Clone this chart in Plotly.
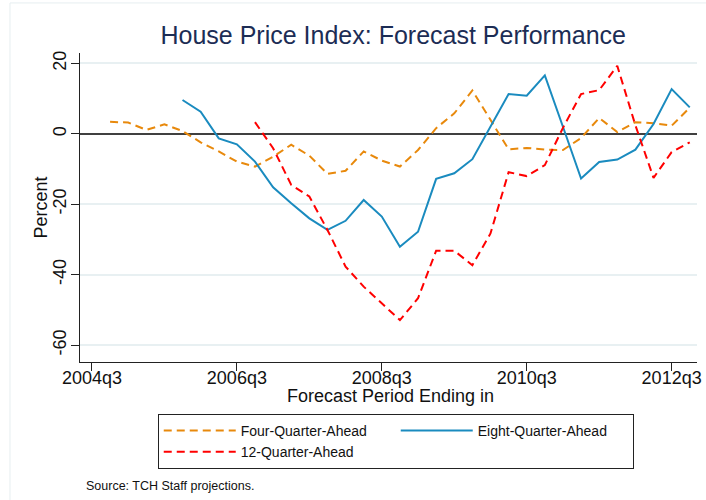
import plotly.graph_objects as go

# ---- data ----
four_q_periods = ["2004q4","2005q1","2005q2","2005q3","2005q4","2006q1","2006q2","2006q3",
                  "2006q4","2007q1","2007q2","2007q3","2007q4","2008q1","2008q2","2008q3",
                  "2008q4","2009q1","2009q2","2009q3","2009q4","2010q1","2010q2","2010q3",
                  "2010q4","2011q1","2011q2","2011q3","2011q4","2012q1","2012q2","2012q3","2012q4"]
four_q_values = [3.4, 3.2, 1.1, 2.7, 0.8, -2.4, -5.0, -7.9,
                 -9.3, -6.5, -3.1, -6.2, -11.4, -10.5, -5.0, -7.6,
                 -9.3, -4.6, 1.6, 5.8, 12.3, 4.0, -4.4, -4.0,
                 -4.5, -4.6, -1.2, 4.5, 0.5, 3.3, 3.0, 2.3, 7.4]

eight_q_periods = ["2005q4","2006q1","2006q2","2006q3","2006q4","2007q1","2007q2","2007q3",
                   "2007q4","2008q1","2008q2","2008q3","2008q4","2009q1","2009q2","2009q3",
                   "2009q4","2010q1","2010q2","2010q3","2010q4","2011q1","2011q2","2011q3",
                   "2011q4","2012q1","2012q2","2012q3","2012q4"]
eight_q_values = [9.6, 6.3, -1.3, -3.0, -7.9, -15.2, -19.7, -24.0,
                  -27.3, -24.7, -18.8, -23.5, -32.1, -27.8, -12.8, -11.2,
                  -7.2, 2.0, 11.3, 10.8, 16.6, 2.0, -12.7, -8.0,
                  -7.3, -4.5, 2.8, 12.7, 7.5]

twelve_q_periods = ["2006q4","2007q1","2007q2","2007q3","2007q4","2008q1","2008q2","2008q3",
                    "2008q4","2009q1","2009q2","2009q3","2009q4","2010q1","2010q2","2010q3",
                    "2010q4","2011q1","2011q2","2011q3","2011q4","2012q1","2012q2","2012q3","2012q4"]
twelve_q_values = [3.3, -4.1, -14.5, -17.8, -27.3, -37.7, -43.4, -48.2,
                   -52.9, -46.7, -33.2, -33.2, -37.3, -28.3, -10.9, -12.0,
                   -8.9, 1.7, 11.3, 12.4, 19.3, 2.4, -12.5, -5.2, -2.4]

x_tick_labels = ["2004q3", "2006q3", "2008q3", "2010q3", "2012q3"]
y_tick_values = [20, 0, -20, -40, -60]


def qindex(label):
    """quarter label -> running quarter number"""
    y, q = label.split("q")
    return int(y) * 4 + int(q) - 1


FONT = "Liberation Sans, Arial, sans-serif"
ORANGE = "#E8890C"
BLUE = "#1A8BBF"
RED = "#FF0000"

fig = go.Figure()
fig.add_trace(go.Scatter(
    x=[qindex(p) for p in four_q_periods], y=four_q_values, mode="lines",
    name="Four-Quarter-Ahead", line=dict(color=ORANGE, width=2, dash="8px,5px")))
fig.add_trace(go.Scatter(
    x=[qindex(p) for p in eight_q_periods], y=eight_q_values, mode="lines",
    name="Eight-Quarter-Ahead", line=dict(color=BLUE, width=2)))
fig.add_trace(go.Scatter(
    x=[qindex(p) for p in twelve_q_periods], y=twelve_q_values, mode="lines",
    name="12-Quarter-Ahead", line=dict(color=RED, width=2, dash="8px,5px")))

x0 = qindex(x_tick_labels[0])

fig.update_layout(
    width=706, height=500,
    margin=dict(l=80, r=9, t=53, b=138, autoexpand=False),
    paper_bgcolor="white", plot_bgcolor="white",
    font=dict(family=FONT, color="#111111"),
    title=dict(text="House Price Index: Forecast Performance",
               font=dict(family=FONT, size=25, color="#1C2D55"),
               xref="container", yref="container", x=0.557, y=0.93,
               xanchor="center", yanchor="middle"),
    xaxis=dict(
        range=[x0 - 0.66, x0 + 33.4],
        tickvals=[qindex(t) for t in x_tick_labels], ticktext=x_tick_labels,
        showgrid=False, zeroline=False, automargin=False,
        showline=True, linecolor="#222222", linewidth=1,
        ticks="outside", ticklen=8, tickcolor="#222222", tickwidth=1,
        ticklabelstandoff=-9,
        tickfont=dict(family=FONT, size=18, color="#111111"),
    ),
    yaxis=dict(
        range=[-64.8, 22.95],
        tickvals=y_tick_values, ticktext=[str(v) for v in y_tick_values],
        tickangle=-90, automargin=False,
        showgrid=True, gridcolor="#E8F0F2", gridwidth=1.5,
        zeroline=True, zerolinecolor="#404040", zerolinewidth=2,
        showline=True, linecolor="#222222", linewidth=1,
        ticks="outside", ticklen=8, tickcolor="#222222", tickwidth=1,
        ticklabelstandoff=-2,
        tickfont=dict(family=FONT, size=18, color="#111111"),
    ),
    legend=dict(
        orientation="h", x=0.126, y=-0.168, xanchor="left", yanchor="top",
        entrywidth=150, entrywidthmode="pixels", itemwidth=72,
        bordercolor="#222222", borderwidth=1, bgcolor="white",
        font=dict(family=FONT, size=14, color="#111111"),
    ),
    showlegend=True,
)

# axis titles as annotations for exact placement
fig.add_annotation(text="Forecast Period Ending in", xref="paper", yref="paper",
                   x=0.504, y=-0.111, xanchor="center", yanchor="middle",
                   showarrow=False, font=dict(family=FONT, size=18, color="#111111"))
fig.add_annotation(text="Percent", xref="paper", yref="paper", textangle=-90,
                   x=-0.0648, y=0.5, xanchor="center", yanchor="middle",
                   showarrow=False, font=dict(family=FONT, size=18, color="#111111"))

fig.add_annotation(text="Source: TCH Staff projections.", xref="paper", yref="paper",
                   x=0.0065, y=-0.3997, xanchor="left", yanchor="middle",
                   showarrow=False, font=dict(family=FONT, size=12.5, color="#111111"))

# faint outer graph-region frame
fig.add_shape(type="rect", xref="paper", yref="paper",
              x0=-0.1135, x1=1.2, y0=-0.6, y1=1.162,
              line=dict(color="#E6EEF0", width=1), layer="below")

fig.write_html("out.html", config={"displayModeBar": False},
               post_script="document.body.style.margin='0px';")
